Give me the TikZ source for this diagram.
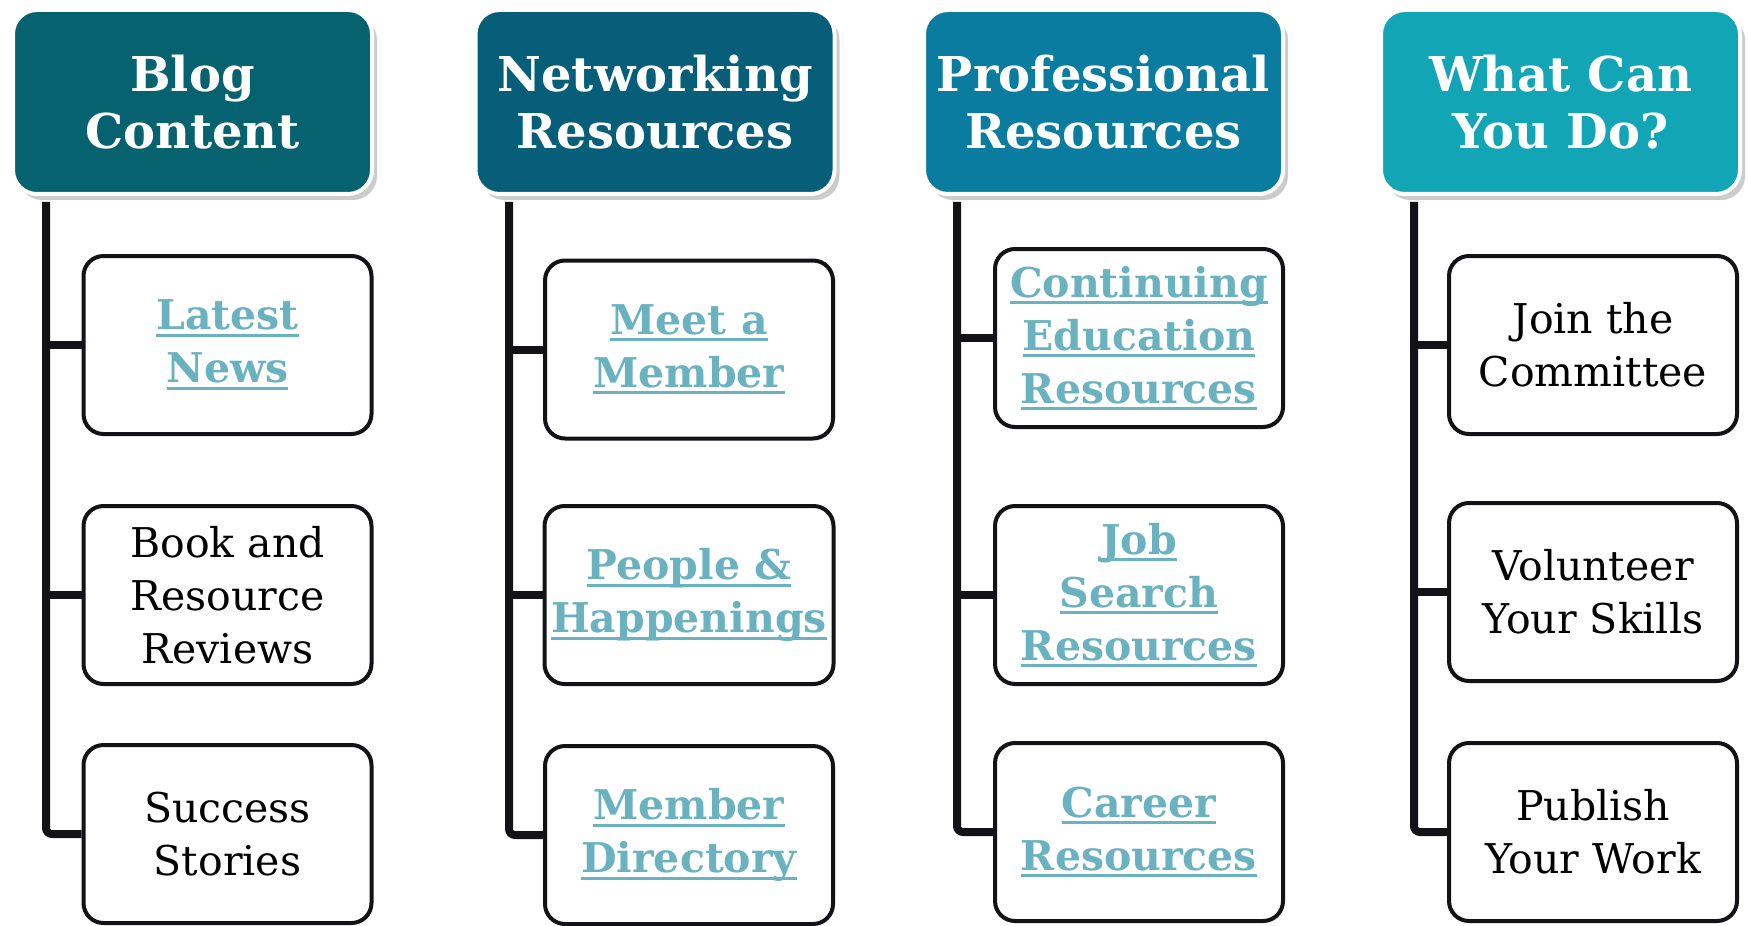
\documentclass[tikz,border=0pt]{standalone}
\usepackage{fontspec}
\setmainfont{DejaVu Serif}
\usetikzlibrary{shadows}
\definecolor{blogteal}{RGB}{6,98,110}
\definecolor{netblue}{RGB}{6,94,120}
\definecolor{problue}{RGB}{10,124,160}
\definecolor{doaqua}{RGB}{18,165,182}
\definecolor{linkblue}{RGB}{107,178,193}
\definecolor{trunkgray}{RGB}{18,18,23}
\newcommand{\lnk}[1]{\setbox0\hbox{#1}\rlap{\rule[-3.5pt]{\wd0}{1.5pt}}\box0}

\begin{document}
\begin{tikzpicture}[x=0.5pt,y=-0.5pt,
    head/.style={rounded corners=12pt, draw=white, line width=2pt,
      minimum width=179.5pt, minimum height=92pt, text=white, align=center,
      font=\bfseries\fontsize{24}{28.5}\selectfont,
      drop shadow={shadow xshift=2.5pt, shadow yshift=-3pt, opacity=0.4}},
    item/.style={rounded corners=10pt, draw=trunkgray, line width=2pt, fill=white,
      minimum width=144pt, minimum height=89pt, align=center,
      font=\fontsize{20.5}{26.5}\selectfont},
    link/.style={item, text=linkblue, font=\bfseries\fontsize{20.5}{26.5}\selectfont},
    trunk/.style={draw=trunkgray, line width=4pt, rounded corners=3pt}]
    \useasboundingbox (0,0) rectangle (1748,925);

    \node[head, fill=blogteal] (h1) at (192.5,102) {Blog\\Content};
    \node[head, fill=netblue] (h2) at (655,102) {Networking\\Resources};
    \node[head, fill=problue] (h3) at (1103.5,102) {Professional\\Resources};
    \node[head, fill=doaqua] (h4) at (1560.5,102) {What Can\\You Do?};

    \node[link] (b11) at (227.5,345) {\lnk{Latest}\\\lnk{News}};
    \node[item] (b12) at (227.5,595) {Book and\\Resource\\Reviews};
    \node[item] (b13) at (227.5,834) {Success\\Stories};

    \node[link] (b21) at (689,349.5) {\lnk{Meet a}\\\lnk{Member}};
    \node[link] (b22) at (689,595) {\lnk{People \&}\\\lnk{Happenings}};
    \node[link] (b23) at (689,835) {\lnk{Member}\\\lnk{Directory}};

    \node[link] (b31) at (1139,338) {\lnk{Continuing}\\\lnk{Education}\\\lnk{Resources}};
    \node[link] (b32) at (1139,595) {\lnk{Job}\\\lnk{Search}\\\lnk{Resources}};
    \node[link] (b33) at (1139,832) {\lnk{Career}\\\lnk{Resources}};

    \node[item] (b41) at (1593,345) {Join the\\Committee};
    \node[item] (b42) at (1593,592) {Volunteer\\Your Skills};
    \node[item] (b43) at (1593,832) {Publish\\Your Work};

    \coordinate (t1) at (46,0);
    \coordinate (t2) at (509,0);
    \coordinate (t3) at (957,0);
    \coordinate (t4) at (1414,0);

    \draw[trunk, shorten <=3pt] (t1 |- h1.south) |- (b13.west);
    \draw[trunk] (t1 |- b11) -- (b11.west);
    \draw[trunk] (t1 |- b12) -- (b12.west);

    \draw[trunk, shorten <=3pt] (t2 |- h2.south) |- (b23.west);
    \draw[trunk] (t2 |- b21) -- (b21.west);
    \draw[trunk] (t2 |- b22) -- (b22.west);

    \draw[trunk, shorten <=3pt] (t3 |- h3.south) |- (b33.west);
    \draw[trunk] (t3 |- b31) -- (b31.west);
    \draw[trunk] (t3 |- b32) -- (b32.west);

    \draw[trunk, shorten <=3pt] (t4 |- h4.south) |- (b43.west);
    \draw[trunk] (t4 |- b41) -- (b41.west);
    \draw[trunk] (t4 |- b42) -- (b42.west);
  \end{tikzpicture}
\end{document}
